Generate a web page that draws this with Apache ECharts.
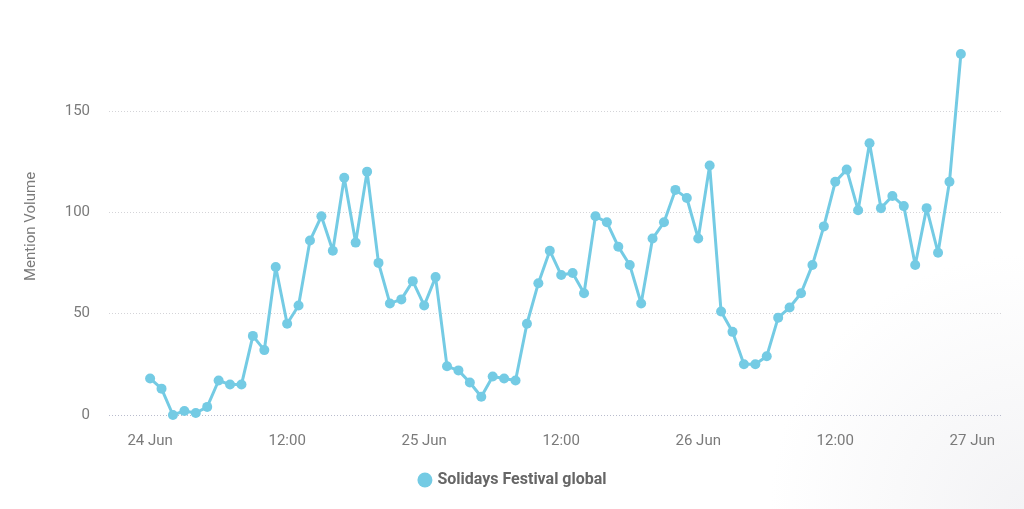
<!DOCTYPE html>
<html>
<head>
<meta charset="utf-8">
<script src="https://cdn.jsdelivr.net/npm/echarts@6/dist/echarts.min.js"></script>
<style>
html,body{margin:0;padding:0;background:#fff;}
#chart{width:1024px;height:509px;}
</style>
</head>
<body>
<div id="chart"></div>
<script>
// Hourly points starting 24 Jun 00:00 (hour offset = index)
const seriesName = 'Solidays Festival global';
const mentionVolume = [
  18, 13, 0, 2, 1, 4, 17, 15, 15, 39, 32, 73,
  45, 54, 86, 98, 81, 117, 85, 120, 75, 55, 57, 66,
  54, 68, 24, 22, 16, 9, 19, 18, 17, 45, 65, 81,
  69, 70, 60, 98, 95, 83, 74, 55, 87, 95, 111, 107,
  87, 123, 51, 41, 25, 25, 29, 48, 53, 60, 74, 93,
  115, 121, 101, 134, 102, 108, 103, 74, 102, 80, 115, 178
];
const xTickHours = [0, 12, 24, 36, 48, 60, 72];
const xTickLabels = ['24 Jun', '12:00', '25 Jun', '12:00', '26 Jun', '12:00', '27 Jun'];
const yTicks = [0, 50, 100, 150];

const points = mentionVolume.map((v, i) => [i, v]);
const labelFor = {};
xTickHours.forEach((h, i) => { labelFor[h] = xTickLabels[i]; });

const chart = echarts.init(document.getElementById('chart'), null, {renderer: 'canvas'});
chart.setOption({
  backgroundColor: {
    type: 'radial', x: 1, y: 1, r: 0.5,
    colorStops: [{offset: 0, color: '#f3f3f5'}, {offset: 1, color: '#ffffff'}]
  },
  animation: false,
  textStyle: {fontFamily: 'Roboto'},
  grid: {left: 109, right: 22, top: 54, bottom: 94, containLabel: false},
  legend: {
    data: [seriesName],
    bottom: 16,
    left: 'center',
    icon: 'circle',
    itemWidth: 15,
    itemHeight: 15,
    itemGap: 10,
    textStyle: {color: '#666', fontSize: 16, fontWeight: 'bold', fontFamily: 'Roboto'}
  },
  xAxis: {
    type: 'value',
    min: -3.6,
    max: 74.6,
    axisLine: {show: false},
    axisTick: {show: false, customValues: xTickHours},
    splitLine: {show: false},
    axisLabel: {
      customValues: xTickHours,
      color: '#7a7a7a',
      fontSize: 15,
      margin: 19,
      formatter: v => labelFor[Math.round(v)] || ''
    }
  },
  yAxis: {
    type: 'value',
    min: 0,
    max: 178,
    interval: 50,
    name: 'Mention Volume',
    nameLocation: 'middle',
    nameRotate: 90,
    nameGap: 70,
    nameTextStyle: {color: '#7a7a7a', fontSize: 15, padding: [0, 0, 0, 16]},
    axisLine: {show: false},
    axisTick: {show: false},
    axisLabel: {
      color: '#7a7a7a', fontSize: 15, margin: 19,
      showMaxLabel: false,
      formatter: v => (yTicks.indexOf(v) >= 0 ? String(v) : '')
    },
    splitLine: {
      show: true,
      lineStyle: {
        type: [1, 2],
        width: 1,
        color: ['#b9bccd', '#d4d4d8', '#d4d4d8', '#d4d4d8', 'rgba(0,0,0,0)']
      }
    }
  },
  series: [{
    name: seriesName,
    type: 'line',
    data: points,
    symbol: 'circle',
    symbolSize: 10,
    showSymbol: true,
    itemStyle: {color: '#74cbe4'},
    lineStyle: {color: '#74cbe4', width: 3}
  }]
});
</script>
</body>
</html>
